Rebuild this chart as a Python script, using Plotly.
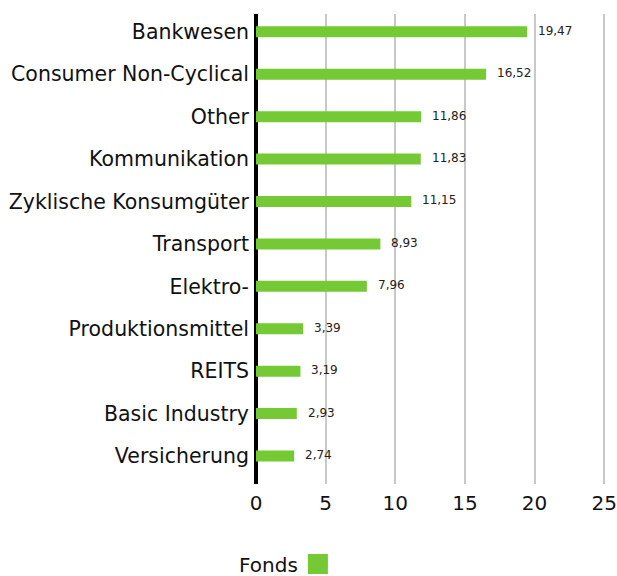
import plotly.graph_objects as go

categories = ["Bankwesen", "Consumer Non-Cyclical", "Other", "Kommunikation",
              "Zyklische Konsumgüter", "Transport", "Elektro-", "Produktionsmittel",
              "REITS", "Basic Industry", "Versicherung"]
fonds = [19.47, 16.52, 11.86, 11.83, 11.15, 8.93, 7.96, 3.39, 3.19, 2.93, 2.74]
x_ticks = [0, 5, 10, 15, 20, 25]
series_name = "Fonds"

GREEN = "#74c935"
FONT = "DejaVu Sans"

L, R, T, B = 256, 9.5, 14, 92
W, H = 617, 576

fig = go.Figure()
fig.add_trace(go.Bar(
    y=categories, x=fonds, orientation="h", name=series_name,
    marker=dict(color=GREEN, line=dict(width=0)), width=0.26,
    showlegend=False, hoverinfo="x+y",
))

for c, v in zip(categories, fonds):
    fig.add_annotation(x=v, y=c, xref="x", yref="y", text=f"{v:.2f}".replace(".", ","),
                       showarrow=False, xanchor="left", yanchor="middle", xshift=9, yshift=1,
                       font=dict(family=FONT, size=12, color="#222"))

fig.update_layout(
    width=W, height=H,
    margin=dict(l=L, r=R, t=T, b=B, autoexpand=False),
    plot_bgcolor="white", paper_bgcolor="white",
    font=dict(family=FONT, color="#111"),
    xaxis=dict(range=[0, 25.2], tickvals=x_ticks, showgrid=True, gridcolor="#c8c8c8", gridwidth=2,
               zeroline=True, zerolinecolor="black", zerolinewidth=4, showline=False,
               tickfont=dict(size=20, color="#111"), ticks="", ticklabelstandoff=5,
               ticklabeloverflow="allow", automargin=False),
    yaxis=dict(range=[10.66, -0.42], showgrid=False, zeroline=False, showline=False,
               tickfont=dict(size=20.5, color="#111"), ticks="", ticklabelstandoff=6,
               automargin=False),
)

# legend (text left of swatch, as in the reference), positioned in paper coordinates
pw = W - L - R
ph = H - T - B
def px(x): return (x - L) / pw
def py(y): return (H - B - y) / ph
fig.add_annotation(x=px(300), y=py(565), xref="paper", yref="paper", text=series_name,
                   showarrow=False, xanchor="right", yanchor="middle",
                   font=dict(family=FONT, size=20, color="#111"))
fig.add_shape(type="rect", xref="paper", yref="paper", x0=px(308), x1=px(328), y0=py(574), y1=py(554),
              fillcolor=GREEN, line=dict(width=0))

fig.write_html("out.html", config={"displayModeBar": False},
               post_script="document.body.style.margin='0';document.body.style.overflow='hidden';")
